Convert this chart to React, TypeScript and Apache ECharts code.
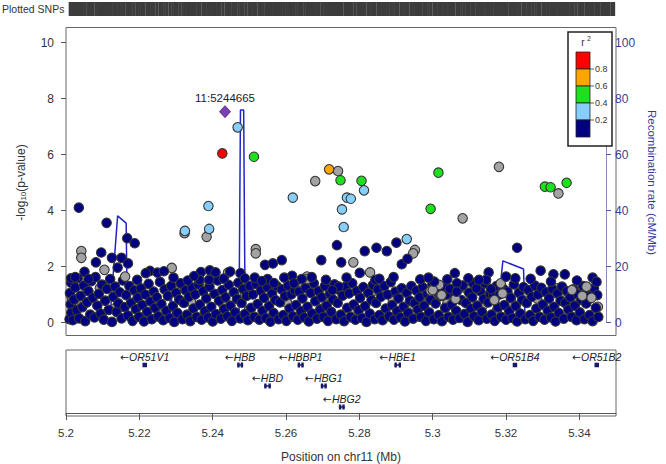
import React, { useEffect, useRef } from "react";
import * as echarts from "echarts";

const FONT = '"Liberation Sans", Arial, Helvetica, sans-serif';

// ---------- axes / ticks ----------
const xTickValues = [5.2, 5.22, 5.24, 5.26, 5.28, 5.3, 5.32, 5.34];
const pTickValues = [0, 2, 4, 6, 8, 10];
const recombTickValues = [0, 20, 40, 60, 80, 100];
const ldBreakLabels = ["0.8", "0.6", "0.4", "0.2"];
const ldColors = ["#ff0000", "#ffa500", "#1fe01f", "#87cefa", "#000080"]; // r2 high -> low
const naColor = "#a3a3a3";

// ---------- lead SNP ----------
const leadSnp = { name: "11:5244665", pos: 5.244665, logp: 7.53 };

// ---------- SNPs: [position in kb from 5.2 Mb, -log10 p] ----------
const redSnps = [[43.9, 6.04]];
const orangeSnps = [[73.9, 5.47]];
const greenSnps = [
  [52.8, 5.92], [77.1, 5.08], [83.0, 5.06], [104.6, 5.35], [102.4, 4.06],
  [134.5, 4.85], [136.1, 4.83], [140.6, 4.99],
];
const lightBlueSnps = [
  [48.2, 6.97], [63.7, 4.46], [83.7, 4.72], [78.9, 4.46], [80.0, 4.42], [77.5, 4.04],
  [78.0, 3.41], [40.0, 4.16], [40.2, 3.34], [33.4, 3.27], [95.7, 2.98],
];
const graySnps = [
  [76.4, 5.41], [70.0, 5.05], [121.6, 5.56], [111.4, 3.72], [138.3, 4.61], [39.5, 3.06],
  [33.3, 3.19], [4.3, 2.55], [4.3, 2.31], [53.3, 2.62], [53.3, 2.47], [80.7, 2.15],
  [67.7, 1.64], [67.7, 1.55], [98.0, 2.59], [97.5, 2.47], [85.4, 1.79], [10.8, 1.88],
  [16.6, 1.64], [29.7, 1.95], [45.5, 1.78], [122.1, 1.4], [122.6, 1.04], [102.4, 1.14],
  [105.3, 0.96], [109.4, 0.84], [120.3, 0.8], [104.8, 1.34], [103.0, 1.16], [105.5, 0.98],
  [142.1, 1.16], [145.0, 0.95], [146.2, 1.28], [147.6, 0.88],
];
const navySnps = [
  [3.6, 4.1], [11.4, 3.56], [17.2, 3.01], [19.3, 2.83], [76.1, 2.76], [71.7, 2.23],
  [77.3, 2.15], [83.9, 2.55], [82.5, 1.77], [55.9, 2.06], [58.1, 2.11], [60.6, 2.23],
  [63.5, 1.67], [9.9, 2.5], [8.4, 2.15], [12.9, 2.31], [14.5, 1.96], [15.6, 2.31],
  [17.4, 2.11], [5.2, 1.81], [23.6, 1.84], [25.7, 1.78], [27.5, 1.83], [37.9, 1.8],
  [40.4, 1.86], [42.0, 1.79], [46.1, 1.82], [49.0, 1.76], [50.2, 1.58], [56.6, 1.55],
  [58.4, 1.41], [64.0, 1.4], [87.2, 2.67], [90.1, 2.55], [92.8, 2.85], [94.3, 2.08],
  [95.9, 2.27], [86.9, 1.52], [76.6, 1.28], [74.8, 1.16], [126.7, 2.67], [118.7, 1.79],
  [118.0, 1.52], [119.4, 1.19], [123.6, 1.64], [126.2, 1.58], [133.3, 1.85], [136.9, 1.72],
  [140.1, 1.72], [136.2, 1.46], [109.2, 1.76], [107.1, 1.54], [103.4, 1.46], [114.2, 1.42],
  [115.3, 1.22], [109.8, 1.4], [109.7, 1.1], [37.5, 1.52], [40.2, 1.52], [44.3, 1.57],
  [22.4, 1.76], [1.4, 1.58], [2.6, 1.62], [6.3, 1.55], [20.0, 1.52], [30.2, 1.6],
  [34.2, 1.5], [36.0, 1.66], [53.0, 1.6], [55.0, 1.48], [61.3, 1.6], [66.2, 1.55],
  [69.0, 1.62], [73.0, 1.52], [78.8, 1.6], [88.0, 1.56], [92.0, 1.62], [99.5, 1.54],
  [101.8, 1.6], [113.0, 1.58], [116.0, 1.52], [130.5, 1.56], [143.5, 1.5], [147.9, 1.6],
  [149.0, 1.45],
];
const bandGraySnps = [
  [1.6, 0.9], [4.4, 0.62], [9.5, 1.22], [13.6, 0.5], [20.8, 0.98], [26.1, 0.3], [31.0, 1.24],
  [35.1, 0.74], [38.8, 1.32], [44.1, 0.66], [47.8, 1.02], [51.4, 0.44], [57.7, 0.9],
  [62.1, 0.7], [66.7, 1.3], [72.0, 0.5], [74.3, 0.92], [81.0, 0.34], [86.5, 1.14],
  [91.8, 0.76], [96.4, 0.56], [100.9, 0.98], [107.1, 0.68], [112.6, 1.2], [117.0, 0.6],
  [121.0, 0.42], [125.1, 0.74], [128.8, 1.0], [132.3, 0.86], [135.0, 0.62], [137.8, 1.22],
  [139.0, 0.9], [141.9, 1.06], [143.1, 0.7], [144.5, 1.24], [146.8, 0.84], [148.0, 1.12],
  [149.4, 0.56],
];
const bandNavySnps = [
  [1.0, 0.12], [1.3, 0.65], [1.1, 1.05], [1.5, 0.35], [1.4, 1.42], [1.9, 0.08], [2.2, 0.82],
  [2.6, 1.25], [3.0, 0.44], [3.3, 1.58], [3.7, 0.15], [4.1, 0.95], [4.6, 0.55], [5.0, 1.32],
  [5.4, 0.05], [5.9, 0.72], [6.3, 1.12], [6.8, 0.28], [7.1, 1.48], [7.5, 0.88], [8.0, 0.18],
  [8.3, 1.62], [8.8, 0.6], [9.2, 1.02], [9.7, 0.32], [10.1, 1.35], [10.6, 0.1], [11.0, 0.78],
  [11.5, 1.2], [12.0, 0.45], [12.4, 1.55], [12.9, 0.02], [13.3, 0.92], [13.8, 1.28],
  [14.2, 0.38], [14.7, 0.68], [15.1, 1.08], [15.6, 0.15], [16.0, 1.5], [16.5, 0.55],
  [16.9, 0.98], [17.4, 0.25], [17.8, 1.3], [18.3, 0.7], [18.7, 0.06], [19.2, 1.15],
  [19.6, 0.48], [20.1, 0.88], [20.5, 0.2], [21.0, 1.22], [21.4, 0.62], [21.9, 0.04],
  [22.3, 1.0], [22.8, 0.38], [23.2, 1.38], [23.7, 0.75], [24.1, 0.12], [24.6, 1.1],
  [25.0, 0.52], [25.5, 0.9], [25.9, 0.22], [26.4, 1.45], [26.8, 0.66], [27.3, 0.08],
  [27.7, 1.18], [28.2, 0.42], [28.6, 0.95], [29.1, 0.16], [29.5, 1.3], [30.0, 0.58],
  [30.4, 0.02], [30.9, 1.06], [31.3, 0.34], [31.8, 0.82], [32.2, 1.4], [32.7, 0.12],
  [33.1, 0.7], [33.6, 1.15], [34.0, 0.28], [34.5, 0.92], [34.9, 0.05], [35.4, 1.25],
  [35.8, 0.5], [36.3, 1.0], [36.7, 0.2], [37.2, 1.36], [37.6, 0.64], [38.1, 0.1],
  [38.5, 1.12], [39.0, 0.4], [39.4, 0.86], [39.9, 0.18], [40.3, 1.28], [40.8, 0.56],
  [41.2, 0.04], [41.7, 1.02], [42.1, 0.3], [42.6, 1.5], [43.0, 0.78], [43.5, 0.14],
  [43.9, 1.16], [44.4, 0.48], [44.8, 0.9], [45.3, 0.22], [45.7, 1.34], [46.2, 0.6],
  [46.6, 0.06], [47.1, 1.08], [47.5, 0.36], [48.0, 0.84], [48.4, 1.42], [48.9, 0.15],
  [49.3, 0.7], [49.8, 1.2], [50.2, 0.3], [50.7, 0.95], [51.1, 0.08], [51.6, 1.3],
  [52.0, 0.52], [52.5, 1.0], [52.9, 0.2], [53.4, 1.38], [53.8, 0.66], [54.3, 0.1],
  [54.7, 1.14], [55.2, 0.42], [55.6, 0.88], [56.1, 0.16], [56.5, 1.26], [57.0, 0.58],
  [57.4, 0.03], [57.9, 1.04], [58.3, 0.34], [58.8, 0.8], [59.2, 1.3], [59.7, 0.12],
  [60.1, 0.72], [60.6, 1.18], [61.0, 0.26], [61.5, 0.94], [61.9, 0.06], [62.4, 1.32],
  [62.8, 0.5], [63.3, 1.0], [63.7, 0.22], [64.2, 1.16], [64.6, 0.62], [65.1, 0.1],
  [65.5, 1.1], [66.0, 0.4], [66.4, 0.86], [66.9, 0.18], [67.3, 1.24], [67.8, 0.56],
  [68.2, 0.04], [68.7, 1.06], [69.1, 0.32], [69.6, 1.4], [70.0, 0.76], [70.5, 0.14],
  [70.9, 1.12], [71.4, 0.46], [71.8, 0.9], [72.3, 0.2], [72.7, 1.3], [73.2, 0.6],
  [73.6, 0.06], [74.1, 1.02], [74.5, 0.38], [75.0, 0.82], [75.4, 1.36], [75.9, 0.12],
  [76.3, 0.7], [76.8, 1.16], [77.2, 0.28], [77.7, 0.96], [78.1, 0.05], [78.6, 1.28],
  [79.0, 0.52], [79.5, 1.04], [79.9, 0.2], [80.4, 1.4], [80.8, 0.64], [81.3, 0.1],
  [81.7, 1.12], [82.2, 0.44], [82.6, 0.88], [83.1, 0.16], [83.5, 1.26], [84.0, 0.58],
  [84.4, 0.02], [84.9, 1.06], [85.3, 0.32], [85.8, 0.8], [86.2, 1.34], [86.7, 0.12],
  [87.1, 0.7], [87.6, 1.18], [88.0, 0.26], [88.5, 0.92], [88.9, 0.08], [89.4, 1.3],
  [89.8, 0.5], [90.3, 1.0], [90.7, 0.22], [91.2, 1.44], [91.6, 0.62], [92.1, 0.1],
  [92.5, 1.1], [93.0, 0.4], [93.4, 0.86], [93.9, 0.18], [94.3, 1.22], [94.8, 0.56],
  [95.2, 0.04], [95.7, 1.06], [96.1, 0.34], [96.6, 0.78], [97.0, 1.3], [97.5, 0.14],
  [97.9, 0.7], [98.4, 1.14], [98.8, 0.46], [99.3, 0.9], [99.7, 0.2], [100.2, 1.26],
  [100.6, 0.6], [101.1, 0.06], [101.5, 1.02], [102.0, 0.36], [102.4, 0.82], [102.9, 1.36],
  [103.3, 0.12], [103.8, 0.68], [104.2, 1.1], [104.7, 0.26], [105.1, 0.94], [105.6, 0.05],
  [106.0, 1.28], [106.5, 0.52], [106.9, 1.0], [107.4, 0.2], [107.8, 1.2], [108.3, 0.64],
  [108.7, 0.1], [109.2, 0.92], [109.6, 0.42], [110.1, 1.18], [110.5, 0.16], [111.0, 0.8],
  [111.4, 1.32], [111.9, 0.3], [112.3, 0.7], [112.8, 0.02], [113.2, 1.06], [113.7, 0.5],
  [114.1, 0.9], [114.6, 0.22], [115.0, 1.28], [115.5, 0.6], [115.9, 0.08], [116.4, 1.12],
  [116.8, 0.38], [117.3, 0.84], [117.7, 1.4], [118.2, 0.14], [118.6, 0.72], [119.1, 1.02],
  [119.5, 0.28], [120.0, 0.96], [120.4, 0.06], [120.9, 1.3], [121.3, 0.54], [121.8, 1.0],
  [122.2, 0.2], [122.7, 1.22], [123.1, 0.62], [123.6, 0.1], [124.0, 1.1], [124.5, 0.4],
  [124.9, 0.88], [125.4, 0.16], [125.8, 1.36], [126.3, 0.58], [126.7, 0.04], [127.2, 1.06],
  [127.6, 0.32], [128.1, 0.8], [128.5, 1.26], [129.0, 0.12], [129.4, 0.7], [129.9, 1.16],
  [130.3, 0.26], [130.8, 0.92], [131.2, 0.06], [131.7, 1.32], [132.1, 0.5], [132.6, 1.0],
  [133.0, 0.2], [133.5, 1.24], [133.9, 0.64], [134.4, 0.1], [134.8, 1.08], [135.3, 0.42],
  [135.7, 0.86], [136.2, 0.18], [136.6, 1.2], [137.1, 0.56], [137.5, 0.04], [138.0, 1.04],
  [138.4, 0.34], [138.9, 0.78], [139.3, 1.28], [139.8, 0.14], [140.2, 0.7], [140.7, 1.12],
  [141.1, 0.46], [141.6, 0.9], [142.0, 0.2], [142.5, 1.18], [142.9, 0.6], [143.4, 0.08],
  [143.8, 1.0], [144.3, 0.36], [144.7, 0.82], [145.2, 1.3], [145.6, 0.12], [146.1, 0.68],
  [146.5, 1.08], [147.0, 0.26], [147.4, 0.94], [147.9, 0.05], [148.3, 1.22], [148.8, 0.52],
  [149.2, 0.98], [149.5, 0.2],
];

// ---------- recombination rate: [position Mb, cM/Mb] ----------
const recombPos = [
  5.2, 5.204, 5.208, 5.211, 5.2126, 5.2145, 5.2169, 5.2172, 5.22, 5.226, 5.229, 5.2293,
  5.2297, 5.23, 5.234, 5.24, 5.245, 5.2486, 5.249, 5.2499, 5.2503, 5.255, 5.262, 5.27,
  5.28, 5.29, 5.3, 5.31, 5.318, 5.3212, 5.3227, 5.3285, 5.3289, 5.332, 5.34, 5.35,
];
const recombRate = [
  1.2, 0.8, 1.5, 2.4, 6, 38.1, 35.5, 4, 1.1, 0.6, 1, 9, 8, 1.2, 0.9, 0.5, 1.2, 3, 75.9,
  75.9, 3, 0.8, 0.4, 0.6, 0.3, 0.9, 0.5, 1.2, 2.0, 4, 22, 19.1, 3, 1.5, 0.9, 1.1,
];

// ---------- genes ----------
const geneNames = ["OR51V1", "HBB", "HBD", "HBBP1", "HBG1", "HBG2", "HBE1", "OR51B4", "OR51B2"];
const geneStart = [5.22098, 5.2467, 5.25406, 5.26319, 5.2695, 5.27442, 5.28958, 5.32196, 5.34428];
const geneEnd = [5.22196, 5.2483, 5.25586, 5.26483, 5.27112, 5.27601, 5.29137, 5.32292, 5.34521];
const geneRow = [1, 1, 2, 1, 2, 3, 1, 1, 1];
const geneExons = [1, 3, 3, 3, 3, 3, 3, 1, 1];

const mb = (kb: number) => +(5.2 + kb / 1000).toFixed(5);
const toPts = (arr: number[][]) => arr.map((d) => [mb(d[0]), d[1]]);

export default function App() {
  const ref = useRef<HTMLDivElement>(null);
  useEffect(() => {
    document.body.style.margin = "0";
    if (!ref.current) return;
    const chart = echarts.init(ref.current, undefined, { renderer: "svg" });

    const border = { borderColor: "#353535", borderWidth: 1.1, opacity: 1 };
    const sc = (name: string, data: number[][], color: string, z: number) => ({
      name,
      type: "scatter",
      xAxisIndex: 0,
      yAxisIndex: 0,
      data: toPts(data),
      symbol: "circle",
      symbolSize: 9.5,
      itemStyle: { color, ...border },
      z,
      silent: true,
    });

    const allPos: number[][] = [
      ...bandNavySnps, ...bandGraySnps, ...navySnps, ...graySnps, ...lightBlueSnps,
      ...greenSnps, ...orangeSnps, ...redSnps,
    ].map((d) => [mb(d[0]), 0.5]);
    allPos.push([leadSnp.pos, 0.5]);

    const geneData = geneNames.map((n, i) => [geneStart[i], geneEnd[i], geneRow[i], geneExons[i]]);

    const legendGraphics: any[] = [];
    const lx = 576, ly = 52, lw = 14, lh = 17;
    ldColors.forEach((c, i) => {
      legendGraphics.push({
        type: "rect",
        shape: { x: lx, y: ly + i * lh, width: lw, height: lh },
        style: { fill: c, stroke: "#222", lineWidth: 0.8 },
        z: 101,
      });
    });
    ldBreakLabels.forEach((t, i) => {
      const yy = ly + (i + 1) * lh;
      legendGraphics.push({
        type: "line",
        shape: { x1: lx + lw, y1: yy, x2: lx + lw + 4, y2: yy },
        style: { stroke: "#333", lineWidth: 0.8 },
        z: 101,
      });
      legendGraphics.push({
        type: "text",
        style: {
          text: t, x: lx + lw + 5, y: yy, fill: "#333", font: `9px ${FONT}`,
          textAlign: "left", textVerticalAlign: "middle", align: "left", verticalAlign: "middle",
        },
        z: 101,
      });
    });

    const option: any = {
      animation: false,
      textStyle: { fontFamily: FONT },
      grid: [
        { left: 66, right: 50, top: 42.5, bottom: 141.5 },
        { left: 66, right: 50, top: 350, height: 66 },
        { left: 66, right: 50, top: 2, height: 14 },
      ],
      xAxis: [
        { type: "value", gridIndex: 0, min: 5.2, max: 5.35, show: false },
        {
          type: "value", gridIndex: 1, min: 5.2, max: 5.35, position: "bottom",
          axisLine: { show: true, onZero: false, lineStyle: { color: "#555" } },
          axisTick: { show: true, length: 7, customValues: xTickValues, lineStyle: { color: "#555" } },
          axisLabel: {
            customValues: xTickValues, margin: 14, fontSize: 11.5, color: "#333",
            formatter: (v: number) => String(+v.toFixed(2)),
          },
          splitLine: { show: false },
          name: "Position on chr11 (Mb)", nameLocation: "middle", nameGap: 38,
          nameTextStyle: { fontSize: 12, color: "#333" },
        },
        { type: "value", gridIndex: 2, min: 5.2, max: 5.35, show: false },
      ],
      yAxis: [
        {
          type: "value", gridIndex: 0, min: 0, max: 10, interval: 2, position: "left",
          axisLine: { show: false },
          axisTick: { show: true, length: 5, customValues: pTickValues, lineStyle: { color: "#555" } },
          axisLabel: { customValues: pTickValues, margin: 12, fontSize: 12, color: "#333" },
          splitLine: { show: false },
          name: "{a|-log}{s|10}{a|(p-value)}", nameLocation: "middle", nameGap: 39, nameRotate: 90,
          nameTextStyle: {
            rich: {
              a: { fontSize: 12, color: "#333", fontFamily: FONT },
              s: { fontSize: 8, color: "#333", fontFamily: FONT, verticalAlign: "bottom", padding: [5, 0, 0, 0] },
            },
          },
        },
        {
          type: "value", gridIndex: 0, min: 0, max: 100, interval: 20, position: "right", offset: 6,
          axisLine: { show: true, lineStyle: { color: "#8a8abb", width: 1 } },
          axisTick: { show: true, length: 5, customValues: recombTickValues, lineStyle: { color: "#5a5aaa" } },
          axisLabel: { customValues: recombTickValues, margin: 9, fontSize: 12, color: "#3a3a9c" },
          splitLine: { show: false },
          name: "Recombination rate (cM/Mb)", nameLocation: "middle", nameGap: 33, nameRotate: -90,
          nameTextStyle: { fontSize: 11.5, color: "#3a3a9c" },
        },
        { type: "value", gridIndex: 1, min: 0, max: 3, inverse: true, show: false },
        { type: "value", gridIndex: 2, min: 0, max: 1, show: false },
      ],
      graphic: [
        {
          type: "rect", shape: { x: 66, y: 27.5, width: 550, height: 308 },
          style: { fill: "none", stroke: "#666", lineWidth: 1 }, z: 0, silent: true,
        },
        {
          type: "rect", shape: { x: 66, y: 350, width: 550, height: 66 },
          style: { fill: "none", stroke: "#666", lineWidth: 1 }, z: 0, silent: true,
        },
        {
          type: "text",
          style: {
            text: "Plotted SNPs", x: 2, y: 9, fill: "#333", font: `10.5px ${FONT}`,
            textAlign: "left", textVerticalAlign: "middle", align: "left", verticalAlign: "middle",
          },
        },
        {
          type: "rect", shape: { x: 568, y: 32, width: 44, height: 114 },
          style: { fill: "#fff", stroke: "#222", lineWidth: 1.5 }, z: 100,
        },
        {
          type: "text",
          style: {
            text: "r", x: 583, y: 42, fill: "#333", font: `10px ${FONT}`,
            textAlign: "center", textVerticalAlign: "middle", align: "center", verticalAlign: "middle",
          },
          z: 101,
        },
        {
          type: "text",
          style: {
            text: "2", x: 589, y: 38, fill: "#333", font: `7px ${FONT}`,
            textAlign: "center", textVerticalAlign: "middle", align: "center", verticalAlign: "middle",
          },
          z: 101,
        },
        ...legendGraphics,
      ],
      series: [
        {
          name: "recomb", type: "line", xAxisIndex: 0, yAxisIndex: 1,
          data: recombPos.map((p, i) => [p, recombRate[i]]),
          symbol: "none", lineStyle: { color: "#2323c8", width: 1.5 }, z: 1, silent: true,
        },
        sc("band-na", bandGraySnps, naColor, 2),
        sc("band-low", bandNavySnps, ldColors[4], 3),
        sc("na", graySnps, naColor, 4),
        sc("low", navySnps, ldColors[4], 5),
        sc("r2-0.2", lightBlueSnps, ldColors[3], 6),
        sc("r2-0.4", greenSnps, ldColors[2], 7),
        sc("r2-0.6", orangeSnps, ldColors[1], 8),
        sc("r2-0.8", redSnps, ldColors[0], 9),
        {
          name: "lead", type: "scatter", xAxisIndex: 0, yAxisIndex: 0,
          data: [[leadSnp.pos, leadSnp.logp]],
          symbol: "diamond", symbolSize: [11, 12],
          itemStyle: { color: "#7b3fb5", borderColor: "#4a2270", borderWidth: 0.8, opacity: 1 },
          label: {
            show: true, position: "top", distance: 1, formatter: leadSnp.name,
            fontSize: 11.5, color: "#222", fontFamily: FONT,
          },
          z: 10, silent: true,
        },
        {
          name: "genes", type: "custom", xAxisIndex: 1, yAxisIndex: 2, data: geneData,
          encode: { x: [0, 1], y: 2 }, silent: true, clip: false,
          renderItem: (params: any, api: any) => {
            const i = params.dataIndex;
            const s = api.coord([api.value(0), api.value(2)]);
            const e = api.coord([api.value(1), api.value(2)]);
            const cx = (s[0] + e[0]) / 2;
            const yBox = s[1] - 6;
            const w = Math.max(e[0] - s[0], 4.5);
            const children: any[] = [];
            if (api.value(3) > 1) {
              children.push({
                type: "rect", shape: { x: cx - w / 2, y: yBox - 0.75, width: w, height: 1.5 },
                style: { fill: "#1a1a6a" },
              });
              children.push({
                type: "rect", shape: { x: cx - w / 2, y: yBox - 2.5, width: 2.4, height: 5 },
                style: { fill: "#1a1a6a" },
              });
              children.push({
                type: "rect", shape: { x: cx + w / 2 - 2.4, y: yBox - 2.5, width: 2.4, height: 5 },
                style: { fill: "#1a1a6a" },
              });
            } else {
              children.push({
                type: "rect", shape: { x: cx - w / 2, y: yBox - 2.25, width: w, height: 4.5 },
                style: { fill: "#1a1a6a" },
              });
            }
            children.push({
              type: "text",
              style: {
                text: "{ar|\u2190}{g|" + geneNames[i] + "}", x: cx, y: yBox - 8, fill: "#222",
                rich: {
                  ar: { fontFamily: '"DejaVu Sans"', fontSize: 10.5, fill: "#222", color: "#222" },
                  g: { fontFamily: FONT, fontStyle: "italic", fontSize: 10.5, fill: "#222", color: "#222" },
                },
                textAlign: "center", textVerticalAlign: "middle", align: "center", verticalAlign: "middle",
              },
            });
            return { type: "group", children };
          },
        },
        {
          name: "plotted", type: "scatter", xAxisIndex: 2, yAxisIndex: 3, data: allPos,
          symbol: "rect", symbolSize: [2.0, 14], itemStyle: { color: "#3c3c3c", opacity: 1 }, silent: true,
        },
      ],
    };
    chart.setOption(option);
    return () => chart.dispose();
  }, []);

  return (
    <div
      ref={ref}
      style={{ width: 666, height: 464, position: "absolute", left: 0, top: 0, background: "#fff" }}
    />
  );
}
